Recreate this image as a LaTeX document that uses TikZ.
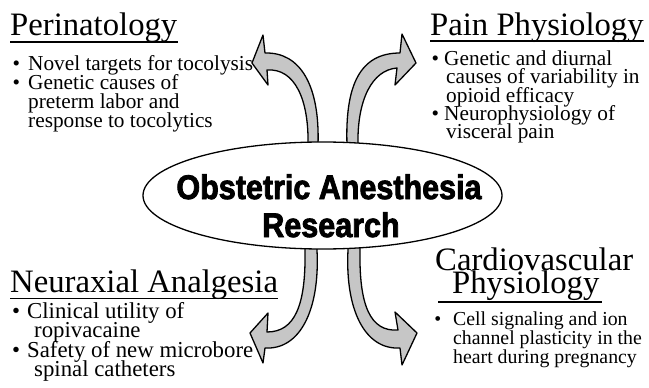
\documentclass[tikz,border=0pt]{standalone}
\usepackage{fontspec}
\setmainfont{Liberation Serif}
\newfontfamily\heavyfont{Liberation Sans}[BoldFeatures={FakeBold=2.5}]
\usetikzlibrary{calc,shapes.geometric}
\definecolor{arrowgray}{RGB}{198,198,198}
\newcommand{\bul}[1]{\llap{•\hspace{#1}}}
\newcommand{\tallbox}[1]{\scalebox{1}[1.12]{#1}}
\tikzset{
  ttl/.style={inner sep=0pt, anchor=base west, font=\fontsize{32.7}{33}\selectfont},
  btext/.style={inner sep=0pt, anchor=base west, font=\fontsize{21.3}{22}\selectfont},
  ntext/.style={inner sep=0pt, anchor=base west, font=\fontsize{22.8}{23}\selectfont},
  cvtext/.style={inner sep=0pt, anchor=base west, font=\fontsize{19.8}{20}\selectfont},
  ctext/.style={inner sep=0pt, anchor=base, font=\heavyfont\bfseries\fontsize{30.5}{31}\selectfont},
  arr/.style={fill=arrowgray, draw=black, line width=1.3pt, line join=round},
  uline/.style={line width=1.4pt},
}
\begin{document}
\begin{tikzpicture}[x=1pt,y=-1pt]
\useasboundingbox (0,0) rectangle (649,388);
% arrows
\draw[arr] (308,175) -- (308,145) .. controls (309,100) and (295,68) .. (267,70)
  -- (268,85) -- (252,63) -- (263,35) -- (265,53)
  .. controls (300,52) and (320,85) .. (318,145) -- (318,175) -- cycle;
\draw[arr] (358,175) -- (358,145) .. controls (357,100) and (372,70) .. (397,68)
  -- (395,85) -- (416,63) -- (402,34) -- (400,53)
  .. controls (360,53) and (345,85) .. (347,145) -- (347,175) -- cycle;
\draw[arr] (305,220) -- (305,250) .. controls (306,305) and (295,332) .. (267,332)
  -- (268,313) -- (250,333) -- (263,363) -- (265,348)
  .. controls (300,350) and (320,310) .. (317,250) -- (317,220) -- cycle;
\draw[arr] (360,220) -- (360,250) .. controls (359,305) and (370,332) .. (398,330)
  -- (395,312) -- (417,333) -- (402,365) -- (400,348)
  .. controls (365,350) and (345,310) .. (348,250) -- (348,220) -- cycle;
% central ellipse
\node[draw, fill=white, line width=1.3pt, ellipse, minimum width=359pt, minimum height=107pt, inner sep=0pt] (hub) at (322.5,195.5) {};
\node[ctext] (hub1) at (329,199) {\tallbox{Obstetric Anesthesia}};
\node[ctext] (hub2) at (331,237) {\tallbox{Research}};
% Perinatology
\node[ttl] (peri) at (10,35) {Perinatology};
\draw[uline] ($(peri.base west)+(0,7)$) -- ($(peri.base east)+(0,7)$);
\node[btext] (p1) at (28,70.7) {\bul{8pt}Novel targets for tocolysis};
\node[btext] (p2) at (28,89.5) {\bul{8pt}Genetic causes of};
\node[btext] (p3) at (28,108.5) {preterm labor and};
\node[btext] (p4) at (28,127.5) {response to tocolytics};
% Pain Physiology
\node[ttl] (pain) at (430,35) {Pain Physiology};
\draw[uline] ($(pain.base west)+(0,6)$) -- ($(pain.base east)+(0,6)$);
\node[btext] (q1) at (444,65) {\bul{5pt}Genetic and diurnal};
\node[btext] (q2) at (446,83.5) {causes of variability in};
\node[btext] (q3) at (446,102) {opioid efficacy};
\node[btext] (q4) at (444,120) {\bul{5pt}Neurophysiology of};
\node[btext] (q5) at (446,138.5) {visceral pain};
% Neuraxial Analgesia
\node[ttl] (neur) at (10,292) {Neuraxial Analgesia};
\draw[uline] ($(neur.base west)+(0,6.5)$) -- ($(neur.base east)+(0,6.5)$);
\node[ntext] (n1) at (27,318) {\bul{7pt}Clinical utility of};
\node[ntext] (n2) at (34,337.5) {ropivacaine};
\node[ntext] (n3) at (27,357) {\bul{7pt}Safety of new microbore};
\node[ntext] (n4) at (34,376) {spinal catheters};
% Cardiovascular Physiology
\node[ttl] (card1) at (435,270) {Cardiovascular};
\node[ttl] (card2) at (452,293) {Physiology};
\draw[uline] ($(card2.base west)+(-14,9)$) -- ($(card2.base east)+(2,9)$);
\node[cvtext] (c1) at (453,325) {\bul{12pt}Cell signaling and ion};
\node[cvtext] (c2) at (453,344) {channel plasticity in the};
\node[cvtext] (c3) at (453,363) {heart during pregnancy};
\end{tikzpicture}
\end{document}
